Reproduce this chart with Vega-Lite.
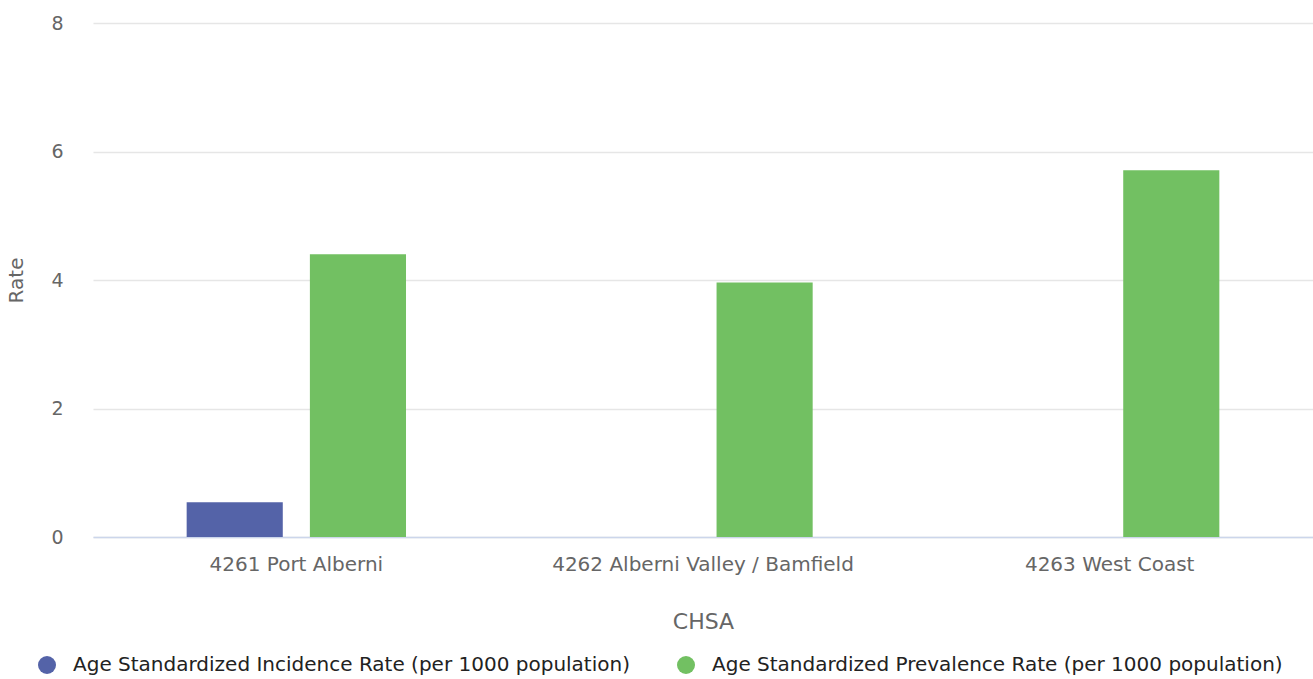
{
  "$schema": "https://vega.github.io/schema/vega-lite/v6.json",
  "width": 1220,
  "height": 514,
  "autosize": {"type": "none"},
  "padding": {"left": 93, "top": 23, "right": 0, "bottom": 142},
  "background": "white",
  "config": {
    "view": {"stroke": null},
    "font": "DejaVu Sans"
  },
  "data": {
    "values": [
      {"CHSA": "4261 Port Alberni", "Measure": "Age Standardized Incidence Rate (per 1000 population)", "Rate": 0.54},
      {"CHSA": "4261 Port Alberni", "Measure": "Age Standardized Prevalence Rate (per 1000 population)", "Rate": 4.4},
      {"CHSA": "4262 Alberni Valley / Bamfield", "Measure": "Age Standardized Prevalence Rate (per 1000 population)", "Rate": 3.96},
      {"CHSA": "4263 West Coast", "Measure": "Age Standardized Prevalence Rate (per 1000 population)", "Rate": 5.71}
    ]
  },
  "mark": {"type": "bar"},
  "encoding": {
    "x": {
      "field": "CHSA",
      "type": "nominal",
      "sort": ["4261 Port Alberni", "4262 Alberni Valley / Bamfield", "4263 West Coast"],
      "scale": {"paddingInner": 0, "paddingOuter": 0},
      "axis": {
        "title": "CHSA",
        "titleFontSize": 22,
        "titleFontWeight": "normal",
        "titleColor": "#666666",
        "titlePadding": 37,
        "labelAngle": 0,
        "labelFontSize": 20,
        "labelColor": "#666666",
        "labelPadding": 17,
        "labelLimit": 600,
        "ticks": false,
        "domainColor": "#ccd6eb",
        "domainWidth": 1.5,
        "grid": false
      }
    },
    "xOffset": {
      "field": "Measure",
      "type": "nominal",
      "scale": {
        "domain": ["Age Standardized Incidence Rate (per 1000 population)", "Age Standardized Prevalence Rate (per 1000 population)"],
        "paddingInner": 0.22,
        "paddingOuter": 0.76
      }
    },
    "y": {
      "field": "Rate",
      "type": "quantitative",
      "scale": {"domain": [0, 8], "nice": false},
      "axis": {
        "title": "Rate",
        "titleFontSize": 20,
        "titleFontWeight": "normal",
        "titleColor": "#666666",
        "titlePadding": 24,
        "values": [0, 2, 4, 6, 8],
        "labelFontSize": 19,
        "labelColor": "#666666",
        "labelPadding": 30,
        "ticks": false,
        "domain": false,
        "gridColor": "#e6e6e6",
        "gridWidth": 1.5
      }
    },
    "color": {
      "field": "Measure",
      "type": "nominal",
      "scale": {
        "domain": ["Age Standardized Incidence Rate (per 1000 population)", "Age Standardized Prevalence Rate (per 1000 population)"],
        "range": ["#5463a8", "#72c062"]
      },
      "legend": {
        "title": null,
        "orient": "none",
        "direction": "horizontal",
        "legendX": -56,
        "legendY": 632,
        "symbolType": "circle",
        "symbolSize": 324,
        "symbolStrokeWidth": 0,
        "labelFontSize": 20,
        "labelColor": "#222222",
        "labelOffset": 16,
        "columnPadding": 46,
        "labelLimit": 800
      }
    }
  }
}
